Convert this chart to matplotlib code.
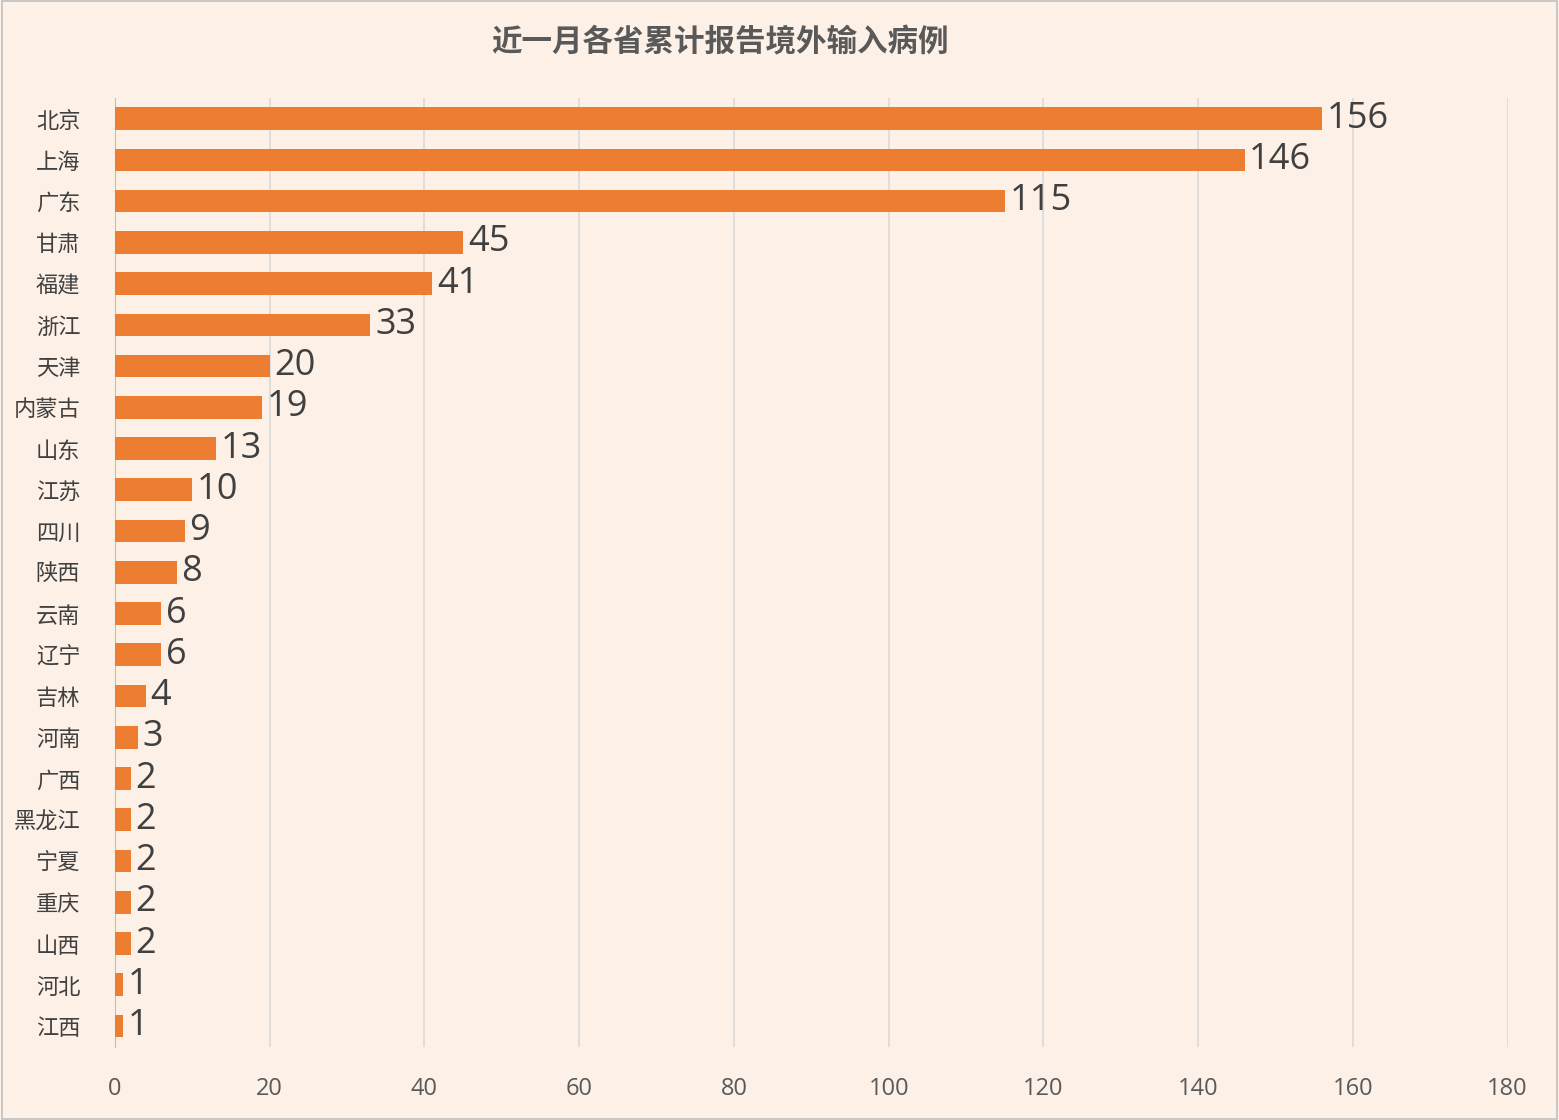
import matplotlib
matplotlib.use("Agg")
import matplotlib.pyplot as plt
from matplotlib.patches import Rectangle

provinces = ["北京","上海","广东","甘肃","福建","浙江","天津","内蒙古","山东","江苏","四川","陕西",
             "云南","辽宁","吉林","河南","广西","黑龙江","宁夏","重庆","山西","河北","江西"]
values = [156,146,115,45,41,33,20,19,13,10,9,8,6,6,4,3,2,2,2,2,2,1,1]
xticks = [0,20,40,60,80,100,120,140,160,180]
title = "近一月各省累计报告境外输入病例"

plt.rcParams["font.family"] = ["Noto Sans CJK SC", "DejaVu Sans"]
bg = "#FDF1E7"
fig = plt.figure(figsize=(15.59, 11.2), dpi=100, facecolor=bg)
fig.patches.append(Rectangle((0.001, 0.001), 0.998, 0.998, transform=fig.transFigure,
                             fill=False, edgecolor="#BFBFBF", linewidth=1.2))
ax = fig.add_axes([0.0738, 0.0655, 0.8932, 0.847], facecolor=bg)
y = list(range(len(provinces)))
ax.barh(y, values, height=0.55, color="#ED7D31", zorder=3)
for yi, v in zip(y, values):
    ax.text(v + 0.6, yi, str(v), va="center", ha="left", fontsize=26, color="#404040",
            fontfamily="Open Sans")
ax.set_ylim(len(provinces) - 0.5, -0.5)
ax.set_xlim(0, 180)
ax.set_yticks(y)
ax.set_yticklabels(provinces, fontsize=16, color="#404040")
ax.set_xticks(xticks)
ax.set_xticklabels([str(t) for t in xticks], fontsize=17, color="#595959", fontfamily="Open Sans")
ax.tick_params(axis="both", length=0)
ax.tick_params(axis="x", pad=22)
ax.tick_params(axis="y", pad=25)
ax.grid(axis="x", color="#D9D9D9", linewidth=1.2, zorder=0)
for s in ["top", "right", "bottom"]:
    ax.spines[s].set_visible(False)
ax.spines["left"].set_color("#BFBFBF")
fig.text(0.462, 0.962, title, ha="center", va="center", fontsize=22, color="#595959", fontweight="bold")
fig.savefig("out.png", dpi=100, facecolor=bg)
